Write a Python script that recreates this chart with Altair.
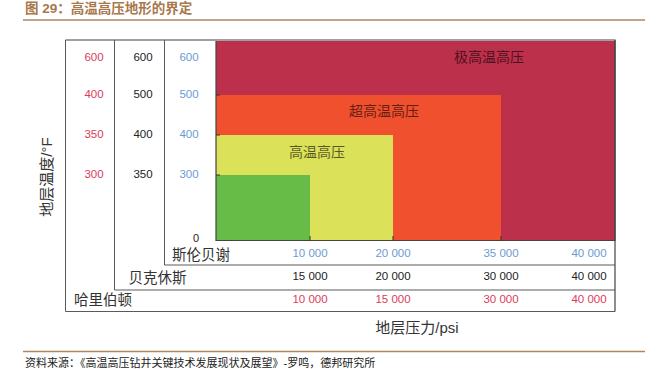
import altair as alt
import pandas as pd

# ---------------- data ----------------
title_text = "图 29：高温高压地形的界定"
source_text = "资料来源：《高温高压钻井关键技术发展现状及展望》-罗鸣，德邦研究所"
y_title = "地层温度/°F"
x_title = "地层压力/psi"

companies = ["斯伦贝谢", "贝克休斯", "哈里伯顿"]

# temperature boundaries (°F) per company, bottom to top
slb_temps = [300, 400, 500, 600]
baker_temps = [350, 400, 500, 600]
hal_temps = [300, 350, 400, 600]

# pressure boundaries (psi) per company, left to right
slb_press = [10000, 20000, 35000, 40000]
baker_press = [15000, 20000, 30000, 40000]
hal_press = [10000, 15000, 30000, 40000]

# zones defined on the Schlumberger scale
zone_names = ["超高温高压", "高温高压", ""]
zone_pmax = [35000, 20000, 10000]
zone_tmax = [500, 400, 300]
zone_colors = ["#F0502E", "#DCE15A", "#66BC47"]
outer_zone = "极高温高压"
outer_color = "#BD304B"

# ---------------- layout constants ----------------
X_DOM = [0] + slb_press
X_RNG = [216, 310, 393, 501, 589]
Y_DOM = [0] + slb_temps
Y_RNG = [240.5, 175, 135, 95, 58]
xs = alt.Scale(domain=X_DOM, range=X_RNG, nice=False, zero=False)
ys = alt.Scale(domain=Y_DOM, range=Y_RNG, nice=False, zero=False)

CJK = "Noto Sans CJK SC"
NUM = "Liberation Sans"
one = pd.DataFrame({"k": [0]})


def X(field):
    return alt.X(field, scale=xs, axis=None)


def Y(field):
    return alt.Y(field, scale=ys, axis=None)


def rule(x, x2, y, y2, color="#5a5a5a", w=1.0):
    return alt.Chart(one).mark_rule(color=color, strokeWidth=w).encode(
        x=alt.value(x), x2=alt.value(x2), y=alt.value(y), y2=alt.value(y2)
    )


def label(text, x, y, size=12, color="#333333", font=CJK, weight="normal",
          align="center", angle=0, opacity=1.0):
    return alt.Chart(pd.DataFrame({"t": [text]})).mark_text(
        fontSize=size, color=color, font=font, fontWeight=weight, align=align,
        baseline="middle", angle=angle, opacity=opacity
    ).encode(text="t:N", x=alt.value(x), y=alt.value(y))


layers = []

# outer (unbounded) zone
layers.append(
    alt.Chart(pd.DataFrame({"p0": [0], "t0": [0]})).mark_rect(color=outer_color).encode(
        x=X("p0:Q"), x2=alt.value(615), y=Y("t0:Q"), y2=alt.value(40)
    )
)

zones = pd.DataFrame({
    "name": zone_names, "p0": 0, "t0": 0,
    "pmax": zone_pmax, "tmax": zone_tmax, "c": zone_colors,
})
layers.append(
    alt.Chart(zones).mark_rect().encode(
        x=X("p0:Q"), x2="pmax:Q", y=Y("t0:Q"), y2="tmax:Q",
        color=alt.Color("c:N", scale=None)
    )
)

# plot border
layers.append(
    alt.Chart(one).mark_rect(fill=None, stroke="#444444", strokeWidth=1.2).encode(
        x=alt.value(216), x2=alt.value(615), y=alt.value(40), y2=alt.value(240.5)
    )
)

# small inward ticks
layers.append(
    alt.Chart(pd.DataFrame({"t": zone_tmax})).mark_rule(color="#333333", strokeWidth=1).encode(
        x=alt.value(216), x2=alt.value(220), y=Y("t:Q")
    )
)
layers.append(
    alt.Chart(pd.DataFrame({"p": zone_pmax})).mark_rule(color="#333333", strokeWidth=1).encode(
        x=X("p:Q"), y=alt.value(236), y2=alt.value(240.5)
    )
)

# frames
layers += [
    rule(65.5, 615, 40, 40, "#a0a0a0", 2),
    rule(65.5, 65.5, 40, 311.5),
    rule(65.5, 615, 311.5, 311.5),
    rule(114.5, 114.5, 40, 290),
    rule(114.5, 615, 290, 290),
    rule(164.5, 164.5, 40, 265),
    rule(164.5, 615, 265, 265),
    rule(615, 615, 40, 311.5, "#444444", 1.2),
    rule(23, 645, 20, 20, "#B08660", 1.5),
    rule(23, 645, 351.5, 351.5, "#B08660", 1.5),
]

# temperature label columns
temp_cols = [
    (slb_temps, slb_temps, 189, "#6E9AD2"),
    (baker_temps, slb_temps, 143, "#222222"),
    (hal_temps, slb_temps, 94, "#DA3C5B"),
]
for labels, pos, xc, col in temp_cols:
    df = pd.DataFrame({"lab": [str(v) for v in labels], "pos": pos})
    layers.append(
        alt.Chart(df).mark_text(font=NUM, fontSize=11.5, color=col, baseline="middle").encode(
            text="lab:N", x=alt.value(xc), y=Y("pos:Q")
        )
    )

# pressure label rows
press_rows = [
    (slb_press, slb_press, 253.5, "#6E9AD2"),
    (baker_press, slb_press, 277, "#222222"),
    (hal_press, slb_press, 300, "#DA3C5B"),
]
for labels, pos, yc, col in press_rows:
    df = pd.DataFrame({"lab": [f"{v:,}".replace(",", " ") for v in labels], "pos": pos})
    layers.append(
        alt.Chart(df).mark_text(font=NUM, fontSize=11.5, color=col, baseline="middle").encode(
            text="lab:N", x=X("pos:Q"), y=alt.value(yc)
        )
    )

# zero label and company names
layers.append(label("0", 196, 238.5, size=11, color="#222222", font=NUM))
layers.append(label(companies[0], 201, 256, size=14.5))
layers.append(label(companies[1], 157.5, 278.5, size=14.5))
layers.append(label(companies[2], 103, 300.5, size=14.5))

# zone labels
layers.append(label(outer_zone, 489, 58, size=14, color="#000000", opacity=0.6))
layers.append(label(zone_names[0], 384, 112, size=14, color="#000000", opacity=0.6))
layers.append(label(zone_names[1], 317, 153, size=14, color="#000000", opacity=0.6))

# axis titles
layers.append(label(y_title, 47, 177, size=15, angle=270, font=f"{NUM}, {CJK}"))
layers.append(label(x_title, 417, 328, size=15, font=f"{NUM}, {CJK}"))

# title and source
layers.append(label(title_text, 25, 8.5, size=13.5, color="#A8784C", weight="bold",
                    align="left", font=f"{NUM}, {CJK}"))
layers.append(label(source_text, 25, 363.5, size=11, color="#222222", align="left",
                    font=f"{NUM}, {CJK}"))

chart = alt.layer(*layers).properties(
    width=660, height=369, padding=0,
    autosize=alt.AutoSizeParams(type="none"),
).configure_view(stroke=None)

chart.save("out.html", embed_options={"renderer": "svg", "actions": False})
